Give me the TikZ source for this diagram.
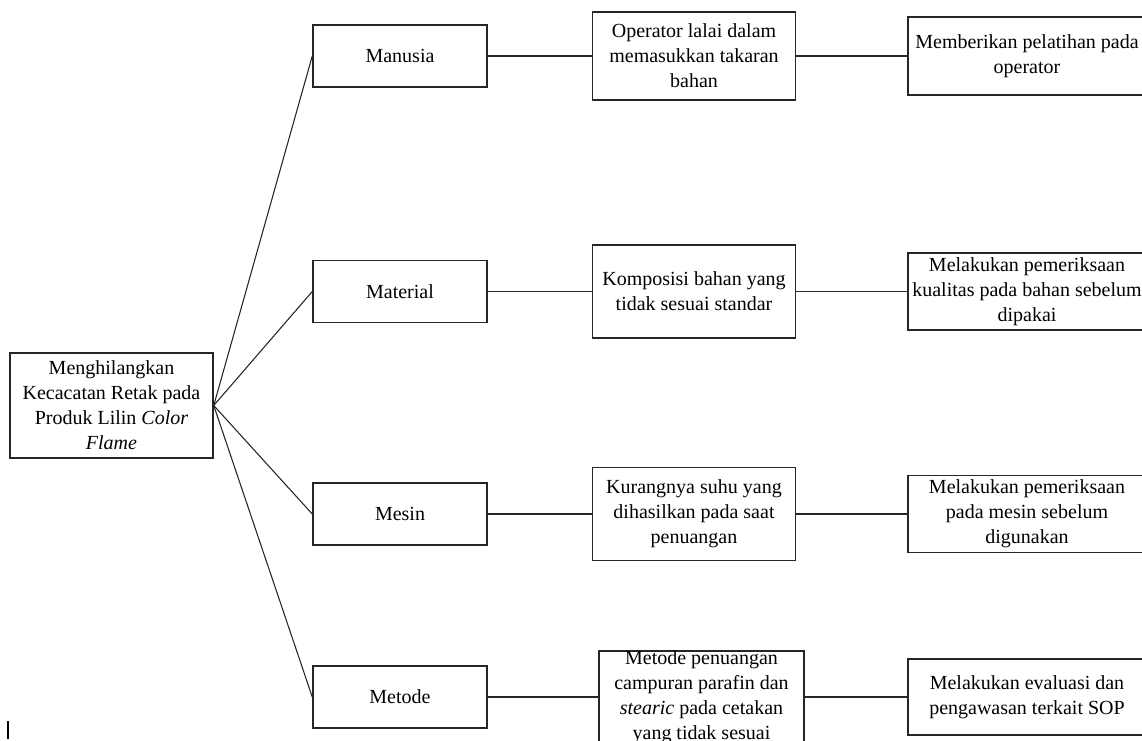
\documentclass[tikz,border=0pt]{standalone}
\usepackage{fontspec}
\setmainfont{Liberation Serif}
\begin{document}
\begin{tikzpicture}[x=0.75pt,y=-0.75pt,
  box/.style={draw=black!85, line width=1.1pt, inner sep=0pt, align=center,
    font=\fontsize{15}{18.75}\selectfont},
  txt/.style={inner sep=0pt, align=center, font=\fontsize{15}{18.75}\selectfont},
  link/.style={draw=black!85, line width=0.8pt}]
\clip (0,0) rectangle (1142,740);
\fill[white] (0,0) rectangle (1142,740);

% root
\node[box, minimum width=152.25pt, minimum height=78.75pt] (root) at (111.5,405.5)
  {Menghilangkan\\Kecacatan Retak pada\\Produk Lilin \textit{Color}\\\textit{Flame}};

% categories
\node[box, minimum width=130.5pt, minimum height=46.5pt] (m1) at (400,56) {Manusia};
\node[box, minimum width=130.5pt, minimum height=46.5pt] (m2) at (400,291.5) {Material};
\node[box, minimum width=130.5pt, minimum height=46.5pt] (m3) at (400,514) {Mesin};
\node[box, minimum width=130.5pt, minimum height=46.5pt] (m4) at (400,697) {Metode};

% causes
\node[box, minimum width=152.25pt, minimum height=66pt] (c1) at (694,56)
  {Operator lalai dalam\\memasukkan takaran\\bahan};
\node[box, minimum width=152.25pt, minimum height=69.75pt] (c2) at (694,291.5)
  {Komposisi bahan yang\\tidak sesuai standar};
\node[box, minimum width=152.25pt, minimum height=69.75pt] (c3) at (694,514)
  {Kurangnya suhu yang\\dihasilkan pada saat\\penuangan};
\node[box, minimum width=153.75pt, minimum height=69pt] (c4) at (701.5,697) {};
\node[txt] (c4t) at (c4.center)
  {Metode penuangan\\campuran parafin dan\\\textit{stearic} pada cetakan\\yang tidak sesuai};

% solutions
\node[box, minimum width=178.5pt, minimum height=58.5pt] (s1) at (1027,56)
  {Memberikan pelatihan pada\\operator};
\node[box, minimum width=178.5pt, minimum height=57.75pt] (s2) at (1027,291.5)
  {Melakukan pemeriksaan\\kualitas pada bahan sebelum\\dipakai};
\node[box, minimum width=178.5pt, minimum height=57.75pt] (s3) at (1027,514)
  {Melakukan pemeriksaan\\pada mesin sebelum\\digunakan};
\node[box, minimum width=178.5pt, minimum height=57pt] (s4) at (1027,697)
  {Melakukan evaluasi dan\\pengawasan terkait SOP};

% connectors
\foreach \i in {1,2,3,4}{
  \draw[link] (root.east) -- (m\i.west);
  \draw[link] (m\i.east) -- (c\i.west);
  \draw[link] (c\i.east) -- (s\i.west);
}

% stray cursor mark
\draw[line width=0.8pt] (8,721) -- (8,739);
\end{tikzpicture}
\end{document}
